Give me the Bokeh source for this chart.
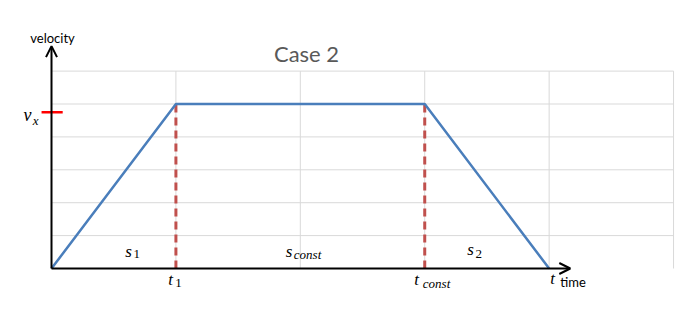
from bokeh.plotting import figure
from bokeh.models import Range1d, Arrow, OpenHead
from bokeh.core.properties import value
from bokeh.embed import file_html
from bokeh.resources import INLINE

# data
times = [0, 1, 3, 4]
velocity = [0, 5, 5, 0]
t1 = 1
t_const = 3
v_x = 5
grid_x = [0, 1, 2, 3, 4, 5]
grid_y = [1, 2, 3, 4, 5, 6]
y_top = 6
x_max = 5
vx_tick_y = 4.75

p = figure(width=684, height=314, output_backend="svg", toolbar_location=None,
           x_range=Range1d(-0.41, 5.088), y_range=Range1d(-1.398, 8.146),
           min_border=0, outline_line_color=None)
p.axis.visible = False
p.grid.visible = False
p.background_fill_color = "white"

# grid
p.segment(x0=grid_x, y0=[0]*len(grid_x), x1=grid_x, y1=[y_top]*len(grid_x),
          line_color="#d9d9d9", line_width=1)
p.segment(x0=[0]*len(grid_y), y0=grid_y, x1=[x_max]*len(grid_y), y1=grid_y,
          line_color="#d9d9d9", line_width=1)

# dashed verticals
p.segment(x0=[t1, t_const], y0=[0, 0], x1=[t1, t_const], y1=[v_x, v_x],
          line_color="#C0504D", line_width=3, line_dash="8 5")

# velocity profile
p.line(times, velocity, line_color="#4A7EBB", line_width=2.5)

# axes arrows
p.add_layout(Arrow(end=OpenHead(size=11, line_width=2, line_color="black"),
                   x_start=0, y_start=0, x_end=0, y_end=6.76,
                   line_color="black", line_width=2))
p.add_layout(Arrow(end=OpenHead(size=11, line_width=2, line_color="black"),
                   x_start=0, y_start=0, x_end=4.17, y_end=0,
                   line_color="black", line_width=2))

# v_x tick
p.segment(x0=[-0.08], y0=[vx_tick_y], x1=[0.09], y1=[vx_tick_y],
          line_color="#FF0000", line_width=2.5)

serif = value("Liberation Serif")
sans = value("Lato")

def lab(x, y, txt, size, font, style="italic", color="black"):
    p.text(x=[x], y=[y], text=[txt], text_font=font, text_font_style=style,
           text_font_size=size, text_align="center", text_baseline="middle",
           text_color=color)

# main letters and subscripts
lab(-0.193, 4.66, "v", "18px", serif)
lab(-0.128, 4.51, "x", "13px", serif)
lab(0.619, 0.518, "s", "17px", serif)
lab(0.686, 0.426, "1", "13px", serif, style="normal")
lab(1.909, 0.518, "s", "17px", serif)
lab(2.058, 0.426, "const", "13px", serif)
lab(3.368, 0.579, "s", "17px", serif)
lab(3.435, 0.442, "2", "13px", serif, style="normal")
lab(0.957, -0.335, "t", "17px", serif)
lab(1.02, -0.426, "1", "13px", serif, style="normal")
lab(2.934, -0.335, "t", "17px", serif)
lab(3.095, -0.457, "const", "13px", serif)
lab(4.027, -0.305, "t", "17px", serif)
lab(4.192, -0.396, "time", "13px", sans, style="normal")
lab(0.008, 7.0, "velocity", "13px", sans, style="normal")
lab(2.05, 6.55, "Case 2", "22px", sans, style="normal", color="#595959")

open("out.html", "w").write(file_html(p, INLINE))
